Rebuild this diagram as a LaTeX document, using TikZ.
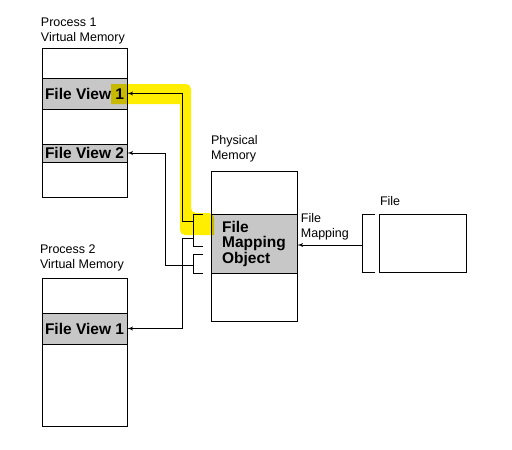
\documentclass[tikz,border=0pt]{standalone}
\usepackage{fontspec}
\setmainfont{Liberation Sans}
\usetikzlibrary{arrows,positioning}

\begin{document}
\begin{tikzpicture}[x=1pt,y=-1pt,>=latex',line width=0.9pt,
                    mem box/.style={draw,minimum width=85pt,inner sep=0pt},
                    view band/.style={draw,fill=black!22,minimum width=85pt,inner sep=0pt,
                                      align=left,font=\fontsize{15.5}{15.5}\selectfont\bfseries},
                    caption/.style={inner sep=0pt,align=left,font=\fontsize{12.5}{15}\selectfont},
                    hilite/.style={fill={rgb,255:red,255;green,238;blue,0},blend mode=multiply}]
  \useasboundingbox (0,0) rectangle (512,450);
  % process 1
  \node[mem box,minimum height=149pt] (p1) at (84.5,122.5) {};
  \node[view band,minimum height=31pt,below=30pt of p1.north] (p1v1) {File View 1};
  \node[view band,minimum height=18pt,below=96pt of p1.north] (p1v2) {File View 2};
  \node[caption,above right=3pt and -1pt of p1.north west] (p1cap) {Process 1\\Virtual Memory};
  % process 2
  \node[mem box,minimum height=148pt] (p2) at (84.5,352) {};
  \node[view band,minimum height=31pt,below=35pt of p2.north] (p2v1) {File View 1};
  \node[caption,above right=6pt and -2pt of p2.north west] (p2cap) {Process 2\\Virtual Memory};
  % physical memory
  \node[mem box,minimum width=86pt,minimum height=150pt] (phys) at (254,246) {};
  \node[view band,minimum width=86pt,minimum height=59pt,below=43pt of phys.north] (fmo) {File\\Mapping\\Object};
  \node[caption,above right=8pt and 0pt of phys.north west] (physcap) {Physical\\Memory};
  % file
  \node[mem box,minimum width=87pt,minimum height=58pt] (file) at (422.5,243) {};
  \node[caption,above right=7pt and 1pt of file.north west] (filecap) {File};
  \node[caption,right=3pt of fmo.north east,anchor=north west,yshift=1pt] (fmcap) {File\\Mapping};

  % brackets
  \draw (375,214) -| (362,272) -- (375,272);
  \draw (203,214) -| (193,246) -- (203,246);
  \draw (203,254) -| (193,273) -- (203,273);
  \coordinate (fb) at (362,245);
  \coordinate (b1) at (193,221);
  \coordinate (b2) at (193,238);
  \coordinate (b3) at (193,265);

  \draw[->] (fb) -- (fb -| phys.east);
  \draw[->] (b1) -- ++(-11,0) |- (p1v1.east);
  \draw[->] (b2) -- ++(-11,0) |- (p2v1.east);
  \draw[->] (b3) -- ++(-28,0) |- (p1v2.east);

  % marker
  \fill[hilite,rounded corners=5pt] (111,84) [sharp corners] -- (186,84) [rounded corners=5pt] -- (191,84)
    -- (191,213) -- (214,213) [sharp corners] -- (214,235) [rounded corners=5pt] -- (180,235)
    [sharp corners] -- (180,104) -- (111,104) -- cycle;
\end{tikzpicture}
\end{document}
